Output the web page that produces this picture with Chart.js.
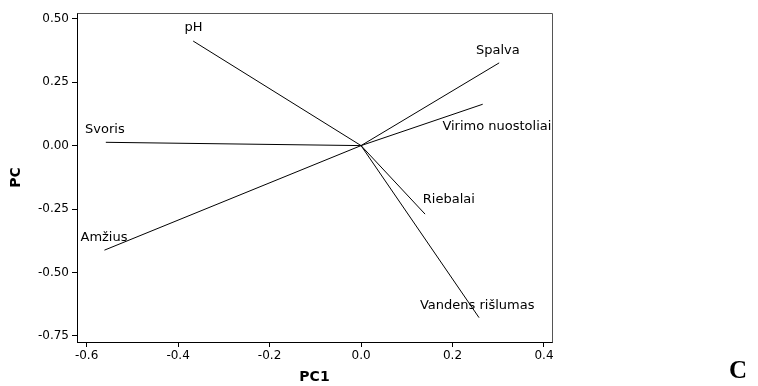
<!DOCTYPE html>
<html>
<head>
<meta charset="utf-8">
<script src="https://cdn.jsdelivr.net/npm/chart.js@4/dist/chart.umd.min.js"></script>
<style>
  body { margin: 0; background: #fff; }
  canvas { display: block; }
</style>
</head>
<body>
<canvas id="biplot" width="758" height="386"></canvas>
<script>
// loadings (PC1, PC2)
const variables = ['pH', 'Svoris', 'Amžius', 'Spalva', 'Virimo nuostoliai', 'Riebalai', 'Vandens rišlumas']
const pc1 = [-0.367, -0.558, -0.561, 0.302, 0.266, 0.140, 0.258]
const pc2 = [0.412, 0.013, -0.412, 0.326, 0.163, -0.270, -0.678]
// where each name sits (data units)
const labelX = [-0.366, -0.560, -0.562, 0.299, 0.297, 0.192, 0.254]
const labelY = [0.463, 0.062, -0.363, 0.373, 0.074, -0.214, -0.631]

const xTicks = [-0.6, -0.4, -0.2, 0.0, 0.2, 0.4]
const yTicks = [0.50, 0.25, 0.00, -0.25, -0.50, -0.75]

const FONT = 'DejaVu Sans'

const datasets = variables.map((name, i) => ({
  label: name,
  data: [{ x: 0, y: 0 }, { x: pc1[i], y: pc2[i] }],
  showLine: true,
  borderColor: '#000',
  borderWidth: 1,
  pointRadius: 0,
  pointHoverRadius: 0
}))

const labelPlugin = {
  id: 'labels',
  afterDatasetsDraw(chart) {
    const ctx = chart.ctx
    const xs = chart.scales.x, ys = chart.scales.y
    const a = chart.chartArea
    ctx.save()
    // top/right frame
    ctx.strokeStyle = '#555'
    ctx.lineWidth = 1
    ctx.beginPath()
    ctx.moveTo(Math.round(a.left) + 0.5, Math.round(a.top) + 0.5)
    ctx.lineTo(Math.round(a.right) + 0.5, Math.round(a.top) + 0.5)
    ctx.lineTo(Math.round(a.right) + 0.5, Math.round(a.bottom) + 0.5)
    ctx.stroke()

    ctx.fillStyle = '#000'
    ctx.font = '13px "' + FONT + '"'
    ctx.textAlign = 'center'
    ctx.textBaseline = 'middle'
    variables.forEach((name, i) => {
      ctx.fillText(name, xs.getPixelForValue(labelX[i]), ys.getPixelForValue(labelY[i]))
    })

    ctx.font = 'bold 25px "Liberation Serif"'
    ctx.fillText('C', 738, 372)
    ctx.restore()
  }
}

new Chart(document.getElementById('biplot').getContext('2d'), {
  type: 'scatter',
  data: { datasets: datasets },
  options: {
    responsive: false,
    animation: false,
    layout: { padding: { left: 0, top: 13, right: 206, bottom: 0 } },
    plugins: {
      legend: { display: false },
      tooltip: { enabled: false }
    },
    scales: {
      x: {
        type: 'linear',
        min: -0.621,
        max: 0.4175,
        afterBuildTicks: s => { s.ticks = xTicks.map(v => ({ value: v })) },
        afterFit: s => { s.height = 44 },
        grid: { drawOnChartArea: false, drawTicks: true, tickLength: 5, color: '#000' },
        border: { display: true, color: '#000' },
        ticks: {
          color: '#000',
          padding: 2,
          maxRotation: 0,
          font: { family: FONT, size: 12 },
          callback: v => v.toFixed(1)
        },
        title: {
          display: true,
          text: 'PC1',
          color: '#000',
          font: { family: FONT, size: 14, weight: 'bold' },
          padding: { top: 5, bottom: 0 }
        }
      },
      y: {
        type: 'linear',
        min: -0.774,
        max: 0.5226,
        afterBuildTicks: s => { s.ticks = yTicks.map(v => ({ value: v })) },
        afterFit: s => { s.width = 77 },
        grid: { drawOnChartArea: false, drawTicks: true, tickLength: 5, color: '#000' },
        border: { display: true, color: '#000' },
        ticks: {
          color: '#000',
          padding: 3,
          font: { family: FONT, size: 12 },
          callback: v => v.toFixed(2)
        },
        title: {
          display: true,
          text: 'PC',
          color: '#000',
          font: { family: FONT, size: 14, weight: 'bold' },
          padding: { top: 8, bottom: 0 }
        }
      }
    }
  },
  plugins: [labelPlugin]
})
</script>
</body>
</html>
